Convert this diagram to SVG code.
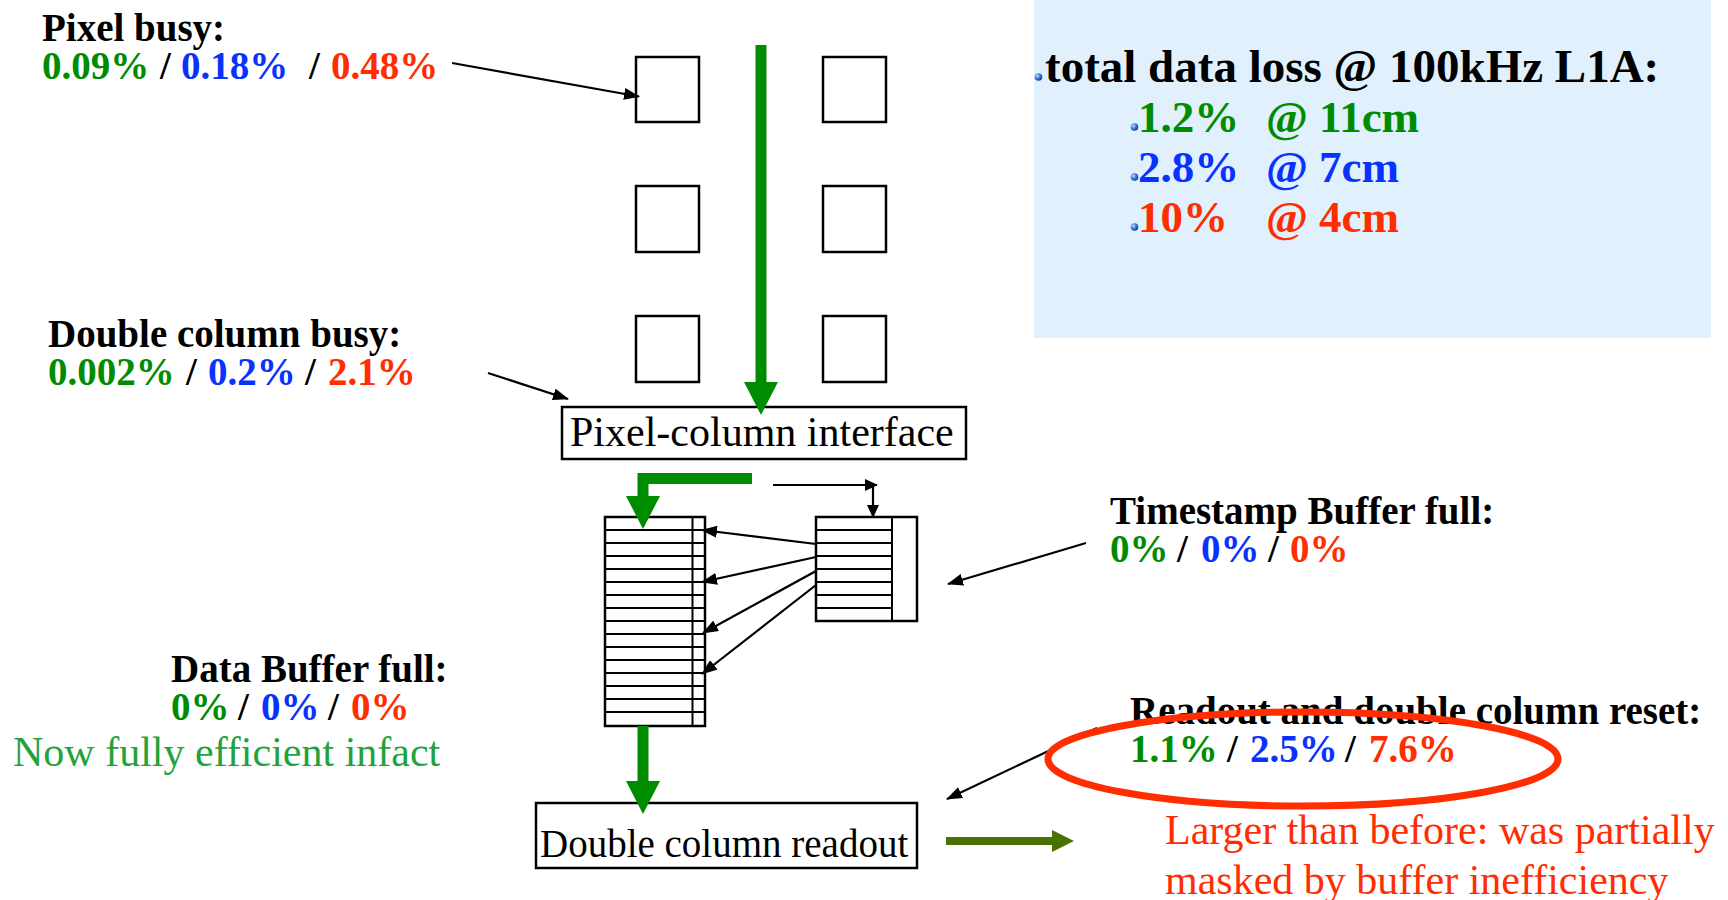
<svg xmlns="http://www.w3.org/2000/svg" width="1728" height="900" viewBox="0 0 1728 900">
<defs>
<style>
.b{font-family:"Liberation Serif","Times New Roman",serif;font-weight:bold;font-size:39px}
.r{font-family:"Liberation Serif","Times New Roman",serif;font-size:42px}
.g{fill:#008c00}.u{fill:#0a32ff}.e{fill:#ff2d00}.k{fill:#000}
.box{fill:#fff;stroke:#000;stroke-width:2.5}
.thin{stroke:#000;stroke-width:2}
.arr{stroke:#000;stroke-width:2.2;fill:none;marker-end:url(#ah)}
.garr{stroke:#008c00;stroke-width:11;fill:none;marker-end:url(#gh)}
</style>
<marker id="ah" markerUnits="userSpaceOnUse" markerWidth="16" markerHeight="12" refX="15" refY="6" orient="auto"><path d="M0,0 L16,6 L0,12 z" fill="#000"/></marker>
<marker id="sh" markerUnits="userSpaceOnUse" markerWidth="13" markerHeight="12" refX="12" refY="6" orient="auto"><path d="M0,0 L13,6 L0,12 z" fill="#000"/></marker>
<marker id="gh" markerUnits="userSpaceOnUse" markerWidth="34" markerHeight="34" refX="0" refY="17" orient="auto"><path d="M0,0 L33,17 L0,34 z" fill="#008c00"/></marker>
<marker id="oh" markerUnits="userSpaceOnUse" markerWidth="22" markerHeight="22" refX="0" refY="11" orient="auto"><path d="M0,0 L22,11 L0,22 z" fill="#4a7200"/></marker>
<radialGradient id="bul" cx="0.35" cy="0.35" r="0.7"><stop offset="0" stop-color="#bfe0ff"/><stop offset="0.5" stop-color="#3a7fd8"/><stop offset="1" stop-color="#0b3a8a"/></radialGradient>
</defs>

<g id="summary">
<rect x="1034" y="0" width="677" height="338" fill="#e1f0fd"/>
<circle cx="1038.5" cy="77" r="3.8" fill="url(#bul)"/>
<text class="b" x="1045" y="82" style="font-size:47px">total data loss @ 100kHz L1A:</text>
<circle cx="1134.5" cy="127" r="3.8" fill="url(#bul)"/>
<text class="b g" y="132" style="font-size:45px"><tspan x="1138">1.2%</tspan><tspan x="1266">@ 11cm</tspan></text>
<circle cx="1134.5" cy="177" r="3.8" fill="url(#bul)"/>
<text class="b u" y="182" style="font-size:45px"><tspan x="1138">2.8%</tspan><tspan x="1266">@ 7cm</tspan></text>
<circle cx="1134.5" cy="227" r="3.8" fill="url(#bul)"/>
<text class="b e" y="232" style="font-size:45px"><tspan x="1138">10%</tspan><tspan x="1266">@ 4cm</tspan></text>
</g>

<g id="pixels">
<rect class="box" x="636" y="57" width="63" height="65"/>
<rect class="box" x="823" y="57" width="63" height="65"/>
<rect class="box" x="636" y="186" width="63" height="66"/>
<rect class="box" x="823" y="186" width="63" height="66"/>
<rect class="box" x="636" y="316" width="63" height="66"/>
<rect class="box" x="823" y="316" width="63" height="66"/>
</g>

<g id="pixel-column-interface">
<rect class="box" x="562" y="407" width="404" height="52"/>
<text class="r" x="570" y="446">Pixel-column interface</text>
</g>

<g id="data-buffer">
<rect class="box" x="605" y="517" width="100" height="209"/>
<g class="thin">
<line x1="605" y1="530" x2="705" y2="530"/><line x1="605" y1="543" x2="705" y2="543"/>
<line x1="605" y1="556" x2="705" y2="556"/><line x1="605" y1="569" x2="705" y2="569"/>
<line x1="605" y1="582" x2="705" y2="582"/><line x1="605" y1="595" x2="705" y2="595"/>
<line x1="605" y1="608" x2="705" y2="608"/><line x1="605" y1="621" x2="705" y2="621"/>
<line x1="605" y1="634" x2="705" y2="634"/><line x1="605" y1="647" x2="705" y2="647"/>
<line x1="605" y1="660" x2="705" y2="660"/><line x1="605" y1="673" x2="705" y2="673"/>
<line x1="605" y1="686" x2="705" y2="686"/><line x1="605" y1="699" x2="705" y2="699"/>
<line x1="605" y1="712" x2="705" y2="712"/>
<line x1="692.5" y1="517" x2="692.5" y2="726"/>
</g>
</g>

<g id="timestamp-buffer">
<rect class="box" x="816" y="517" width="101" height="104"/>
<g class="thin">
<line x1="816" y1="530" x2="892" y2="530"/><line x1="816" y1="543" x2="892" y2="543"/>
<line x1="816" y1="556" x2="892" y2="556"/><line x1="816" y1="569" x2="892" y2="569"/>
<line x1="816" y1="582" x2="892" y2="582"/><line x1="816" y1="595" x2="892" y2="595"/>
<line x1="816" y1="608" x2="892" y2="608"/>
<line x1="892" y1="517" x2="892" y2="621"/>
</g>
</g>

<g id="double-column-readout">
<rect class="box" x="536" y="803" width="381" height="65"/>
<text class="r" x="540" y="857" style="font-size:39px">Double column readout</text>
</g>

<g id="label-pixel-busy">
<text class="b" x="42" y="41">Pixel busy:</text>
<text class="b" y="79"><tspan class="g" x="42">0.09%</tspan><tspan class="k" x="160">/</tspan><tspan class="u" x="181">0.18%</tspan><tspan class="k" x="309">/</tspan><tspan class="e" x="331">0.48%</tspan></text>
</g>

<g id="label-double-column-busy">
<text class="b" x="48" y="347">Double column busy:</text>
<text class="b" y="385"><tspan class="g" x="48">0.002%</tspan><tspan class="k" x="186">/</tspan><tspan class="u" x="208">0.2%</tspan><tspan class="k" x="305">/</tspan><tspan class="e" x="328">2.1%</tspan></text>
</g>

<g id="label-timestamp">
<text class="b" x="1110" y="524">Timestamp Buffer full:</text>
<text class="b" y="562"><tspan class="g" x="1110">0%</tspan><tspan class="k" x="1177">/</tspan><tspan class="u" x="1201">0%</tspan><tspan class="k" x="1268">/</tspan><tspan class="e" x="1290">0%</tspan></text>
</g>

<g id="label-data-buffer">
<text class="b" x="171" y="682">Data Buffer full:</text>
<text class="b" y="720"><tspan class="g" x="171">0%</tspan><tspan class="k" x="238">/</tspan><tspan class="u" x="261">0%</tspan><tspan class="k" x="328">/</tspan><tspan class="e" x="351">0%</tspan></text>
<text class="r" x="13" y="766" fill="#1fa33a">Now fully efficient infact</text>
</g>

<g id="label-readout">
<text class="b" x="1130" y="724">Readout and double column reset:</text>
<text class="b" y="762"><tspan class="g" x="1130">1.1%</tspan><tspan class="k" x="1227">/</tspan><tspan class="u" x="1250">2.5%</tspan><tspan class="k" x="1345">/</tspan><tspan class="e" x="1369">7.6%</tspan></text>
<text class="r" x="1165" y="844" fill="#ff2d00">Larger than before: was partially</text>
<text class="r" x="1165" y="894" fill="#ff2d00">masked by buffer inefficiency</text>
</g>

<g id="connectors">
<line class="garr" x1="761" y1="45" x2="761" y2="382"/>
<path class="garr" d="M752,478.5 H643 V496" style="stroke-linejoin:miter"/>
<line class="garr" x1="643" y1="726" x2="643" y2="781"/>
<line x1="946" y1="841" x2="1052" y2="841" stroke="#4a7200" stroke-width="8" marker-end="url(#oh)"/>
<line class="arr" x1="452" y1="63" x2="639" y2="96.5"/>
<line class="arr" x1="488" y1="373" x2="568" y2="399"/>
<line class="arr" x1="1086" y1="543" x2="948" y2="584"/>
<line class="arr" x1="1097" y1="728" x2="947" y2="799"/>
<line class="arr" x1="816" y1="544" x2="702" y2="530"/>
<line class="arr" x1="816" y1="557" x2="702" y2="582"/>
<line class="arr" x1="816" y1="571" x2="703" y2="633"/>
<line class="arr" x1="816" y1="585" x2="702" y2="674"/>
<line x1="773" y1="485" x2="877" y2="485" stroke="#000" stroke-width="2.2" marker-end="url(#sh)"/>
<line x1="873" y1="485" x2="873" y2="517" stroke="#000" stroke-width="2.2" marker-end="url(#sh)"/>
</g>

<ellipse cx="1303" cy="759" rx="255" ry="47" fill="none" stroke="#ff2d00" stroke-width="7"/>
</svg>
